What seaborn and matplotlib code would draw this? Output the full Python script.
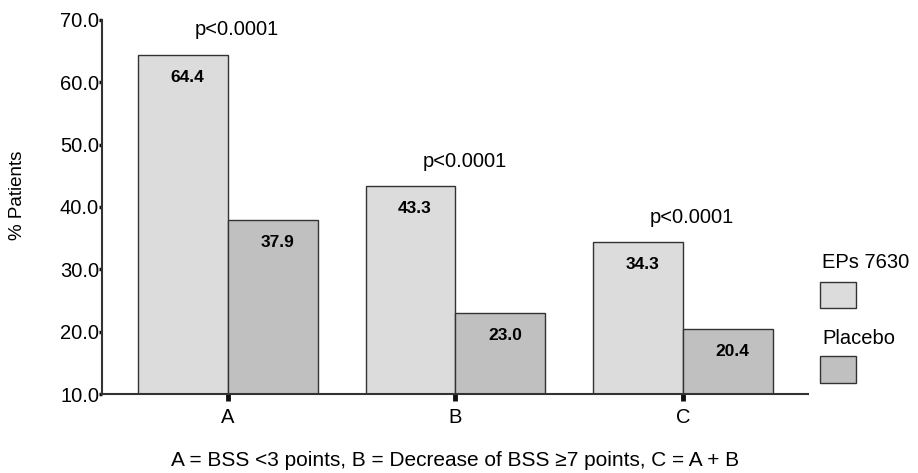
import matplotlib
matplotlib.use("Agg")
import matplotlib.pyplot as plt
from matplotlib.patches import Rectangle
import seaborn as sns
import pandas as pd

sns.set_style("ticks")
plt.rcParams['font.family'] = ['Liberation Sans', 'DejaVu Sans']
plt.rcParams['text.color'] = 'black'
plt.rcParams['axes.labelcolor'] = 'black'
plt.rcParams['xtick.labelcolor'] = 'black'
plt.rcParams['ytick.labelcolor'] = 'black'

categories = ["A", "B", "C"]
groups = ["EPs 7630", "Placebo"]
eps_values = [64.4, 43.3, 34.3]
placebo_values = [37.9, 23.0, 20.4]
p_labels = ["p<0.0001", "p<0.0001", "p<0.0001"]
colors = ["#dcdcdc", "#c0c0c0"]
edge = "#333333"

df = pd.DataFrame({
    "cat": categories * 2,
    "group": [groups[0]] * 3 + [groups[1]] * 3,
    "pct": eps_values + placebo_values,
})

fig = plt.figure(figsize=(9.18, 4.73), dpi=100)
ax = fig.add_axes([0.111, 0.167, 0.769, 0.791])

sns.barplot(data=df, x="cat", y="pct", hue="group", order=categories,
            hue_order=groups, palette=colors, width=0.79, gap=0,
            edgecolor=edge, linewidth=1.0, legend=False, ax=ax)

ax.set_ylim(10, 70)
ax.set_xlim(-0.554, 2.549)
ax.set_yticks([10, 20, 30, 40, 50, 60, 70])
ax.set_yticklabels(["%.1f" % v for v in [10, 20, 30, 40, 50, 60, 70]])
ax.tick_params(axis="y", length=2, width=2.5, pad=0, labelsize=14.5, color="#111111")
ax.tick_params(axis="x", length=5, width=3.5, pad=5, labelsize=14.5, color="#111111")
sns.despine(ax=ax)
for s in ["left", "bottom"]:
    ax.spines[s].set_color(edge)
    ax.spines[s].set_linewidth(1.5)

ax.set_ylabel("% Patients", fontsize=13.5)
ax.yaxis.set_label_coords(-0.107, 0.532)
ax.set_xlabel("A = BSS <3 points, B = Decrease of BSS \u22657 points, C = A + B",
              fontsize=15, labelpad=17)

# value labels inside bars
for cont in ax.containers:
    for bar in cont:
        h = bar.get_height()
        ax.text(bar.get_x() + bar.get_width() / 2 + 0.02, h - 3.6, "%.1f" % h,
                ha="center", va="center", fontsize=12.5, fontweight="bold")

for i, lab in enumerate(p_labels):
    ax.text(i + 0.04, eps_values[i] + 4.0, lab, ha="center", va="center",
            fontsize=14.5, clip_on=False)

# legend: label above swatch
fig.text(0.895, 0.444, groups[0], fontsize=14.5, ha="left", va="center")
fig.patches.append(Rectangle((0.893, 0.349), 0.039, 0.055, transform=fig.transFigure,
                             facecolor=colors[0], edgecolor=edge, linewidth=1.0))
fig.text(0.896, 0.285, groups[1], fontsize=14.5, ha="left", va="center")
fig.patches.append(Rectangle((0.893, 0.190), 0.039, 0.057, transform=fig.transFigure,
                             facecolor=colors[1], edgecolor=edge, linewidth=1.0))

fig.savefig("out.png", dpi=100)
